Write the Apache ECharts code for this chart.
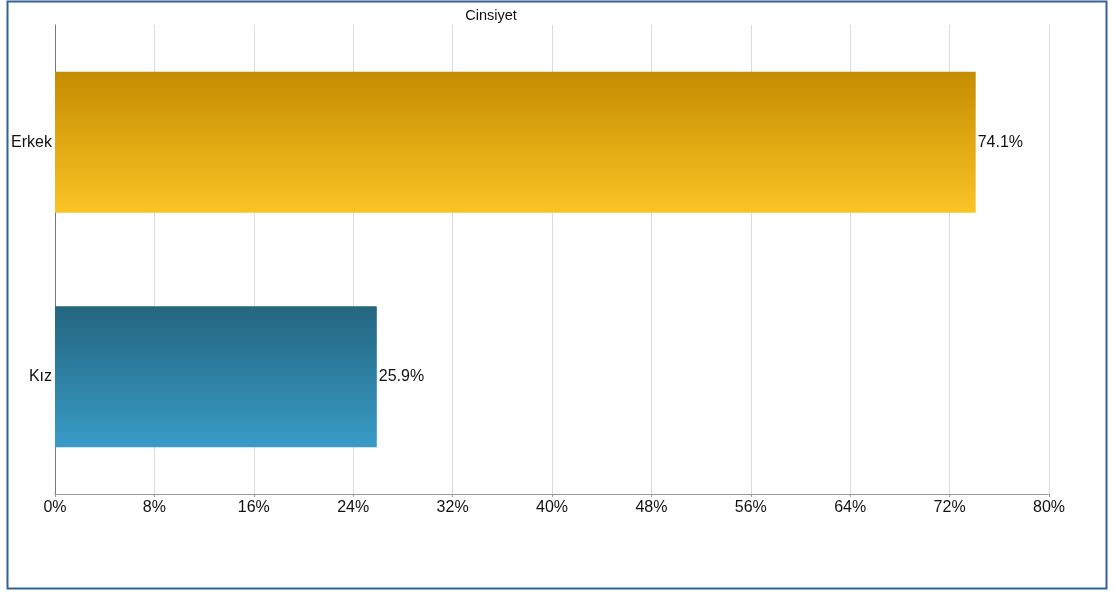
<!DOCTYPE html>
<html>
<head>
<meta charset="utf-8">
<script src="https://cdn.jsdelivr.net/npm/echarts@6/dist/echarts.min.js"></script>
<style>
html,body{margin:0;padding:0;background:#fff;}
#chart{width:1113px;height:592px;}
</style>
</head>
<body>
<div id="chart"></div>
<script>
const titleText = 'Cinsiyet';
const categories = ['Erkek', 'Kız'];
const values = [74.1, 25.9];
const xTicks = [0, 8, 16, 24, 32, 40, 48, 56, 64, 72, 80];

const gradients = [
  ['#c48c00', '#fbc425'],
  ['#246680', '#389bc6']
];
const FONT = '"Liberation Sans", Arial, sans-serif';

const chart = echarts.init(document.getElementById('chart'), null, {renderer: 'canvas'});
chart.setOption({
  animation: false,
  backgroundColor: '#fff',
  title: {
    text: titleText,
    left: 486, top: 3,
    textAlign: 'center',
    textStyle: {fontFamily: FONT, fontSize: 14.5, fontWeight: 'normal', color: '#111'}
  },
  graphic: [{
    type: 'rect',
    shape: {x: 7.5, y: 1.5, width: 1099, height: 587},
    style: {fill: 'none', stroke: '#34609a', lineWidth: 2},
    silent: true
  }],
  grid: {left: 55, right: 64, top: 25, bottom: 98, containLabel: false},
  xAxis: {
    type: 'value',
    min: xTicks[0], max: xTicks[xTicks.length - 1], interval: 8,
    axisLine: {show: true, lineStyle: {color: '#999', width: 1}},
    axisTick: {show: true, length: 3, lineStyle: {color: '#999'}},
    splitLine: {show: true, lineStyle: {color: '#dcdcdc', width: 1}},
    axisLabel: {
      formatter: v => v + '%',
      fontFamily: FONT, fontSize: 16, color: '#111', margin: 6
    }
  },
  yAxis: {
    type: 'category',
    data: categories,
    inverse: true,
    axisLine: {show: true, lineStyle: {color: '#777', width: 1}},
    axisTick: {show: false},
    axisLabel: {fontFamily: FONT, fontSize: 16, color: '#111', margin: 3, padding: [7, 0, 0, 0]}
  },
  series: [{
    type: 'bar',
    barWidth: 141,
    data: values.map((v, i) => ({
      value: v,
      itemStyle: {
        color: new echarts.graphic.LinearGradient(0, 0, 0, 1, [
          {offset: 0, color: gradients[i][0]},
          {offset: 1, color: gradients[i][1]}
        ])
      }
    })),
    label: {
      show: true, position: 'right', distance: 2,
      formatter: p => p.value.toFixed(1) + '%',
      fontFamily: FONT, fontSize: 16, color: '#111', padding: [7, 0, 0, 0]
    }
  }]
});
</script>
</body>
</html>
